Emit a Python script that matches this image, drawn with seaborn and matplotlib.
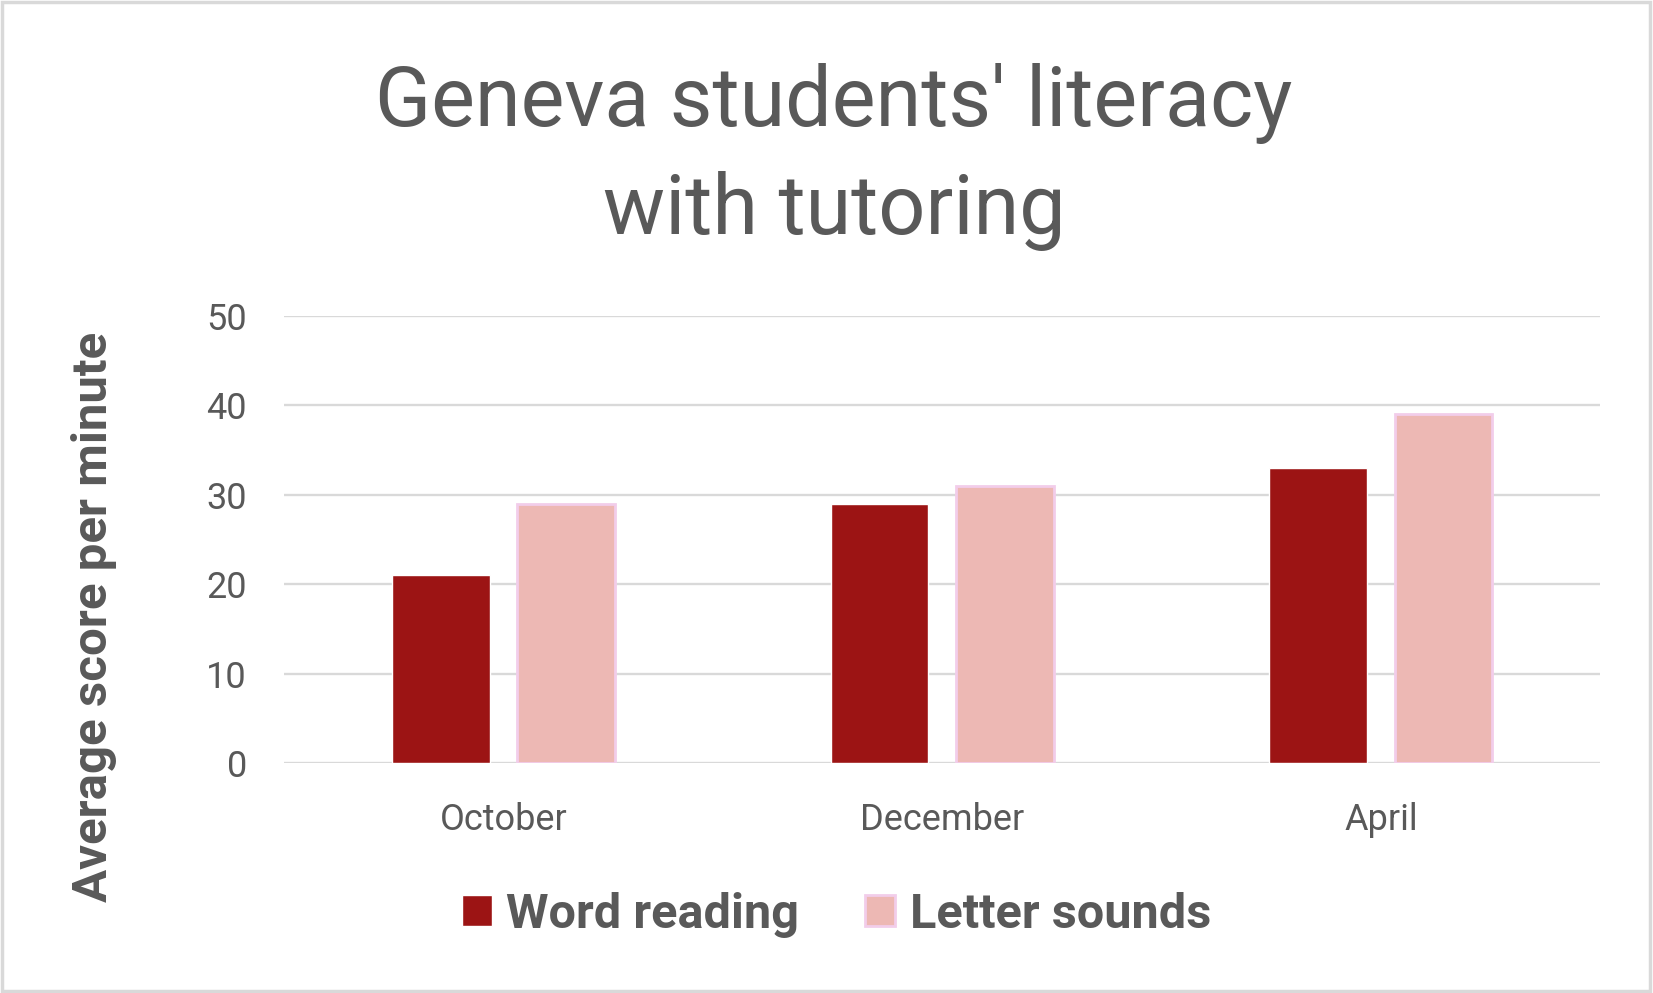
import matplotlib
matplotlib.use("Agg")
import matplotlib.pyplot as plt
import seaborn as sns
import pandas as pd
from matplotlib.patches import Rectangle

months = ["October", "December", "April"]
series = ["Word reading", "Letter sounds"]
word_reading = [21, 29, 33]
letter_sounds = [29, 31, 39]

df = pd.DataFrame({
    "month": months * 2,
    "series": [series[0]] * 3 + [series[1]] * 3,
    "score": word_reading + letter_sounds,
})

sns.set_style("white")
plt.rcParams['font.family'] = ['Roboto', 'DejaVu Sans']
grey = "#595959"

fig = plt.figure(figsize=(16.53, 9.93), dpi=100)
ax = fig.add_axes([0.172, 0.2316, 0.796, 0.4502])

palette = {"Word reading": "#9C1414", "Letter sounds": "#EDB8B4"}
sns.barplot(data=df, x="month", y="score", hue="series", order=months,
            hue_order=series, palette=palette, width=0.572, gap=0.22,
            saturation=1, ax=ax, zorder=3)

# pink bars carry a light lavender outline
for bar in ax.containers[1]:
    bar.set_edgecolor("#F2CDEA")
    bar.set_linewidth(2)

ax.set_ylim(0, 50)
ax.set_xlim(-0.5, 2.5)
ax.set_yticks(range(0, 51, 10))
ax.yaxis.grid(True, color="#D9D9D9", linewidth=1.7, zorder=0)
ax.set_axisbelow(True)
for s in ax.spines.values():
    s.set_visible(False)
ax.tick_params(axis='y', length=0, pad=27, labelsize=26, labelcolor=grey)
ax.tick_params(axis='x', length=0, pad=28, labelsize=26, labelcolor=grey)
ax.set_xlabel("")
ax.set_ylabel("")

fig.text(0.057, 0.379, "Average score per minute", rotation=90,
         ha="center", va="center", fontsize=35.5, fontweight="bold",
         color=grey)

fig.text(0.5045, 0.873, "Geneva students' literacy", ha="center", va="baseline",
         fontsize=59.5, color=grey)
fig.text(0.5045, 0.764, "with tutoring", ha="center", va="baseline",
         fontsize=59.5, color=grey)

ax.legend_.remove()
handles = [Rectangle((0, 0), 1, 1, facecolor="#9C1414"),
           Rectangle((0, 0), 1, 1, facecolor="#EDB8B4", edgecolor="#F2CDEA", linewidth=2)]
leg = fig.legend(handles, series, loc="center", bbox_to_anchor=(0.506, 0.079),
                 ncol=2, frameon=False, handlelength=0.62, handleheight=0.62,
                 handletextpad=0.3, columnspacing=1.35,
                 prop={'weight': 'bold', 'size': 35})
for t in leg.get_texts():
    t.set_color(grey)

fig.patches.append(Rectangle((0.001, 0.002), 0.997, 0.996, transform=fig.transFigure,
                             fill=False, edgecolor="#D9D9D9", linewidth=2.5))

fig.savefig("out.png", dpi=100)
